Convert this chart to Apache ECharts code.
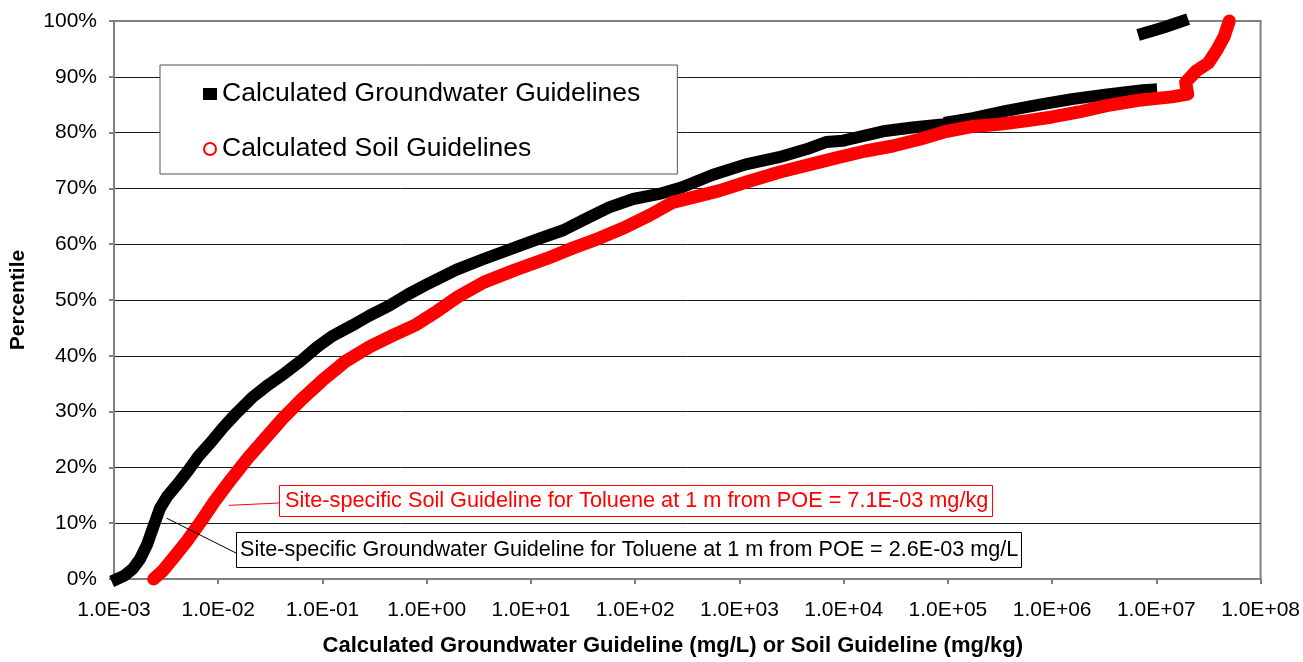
<!DOCTYPE html>
<html>
<head>
<meta charset="utf-8">
<script src="https://cdn.jsdelivr.net/npm/echarts@6/dist/echarts.min.js"></script>
<style>
  html, body { margin: 0; padding: 0; background: #ffffff; }
  #chart { width: 1303px; height: 662px; }
</style>
</head>
<body>
<div id="chart"></div>
<script>
// Cumulative distributions of calculated guidelines (percentile vs. guideline value).
// null entries mark breaks between runs of points.
const groundwaterGuideline = [
  1.07e-3, 1.26e-3, 1.51e-3, 1.78e-3, 2.09e-3, 2.40e-3, 2.75e-3, 3.24e-3, 4.07e-3, 5.13e-3,
  6.46e-3, 8.51e-3, 1.12e-2, 1.51e-2, 2.14e-2, 3.02e-2, 4.37e-2, 6.31e-2, 8.91e-2, 0.126,
  0.191, 0.282, 0.437, 0.661, 1.05, 1.91, 3.47, 6.76, 12.0, 20.4,
  33.9, 56.2, 95.5, 170, 282, 550, 1150, 2400, 4370, 6760,
  9120, null, 1.12e4, 2.51e4, 4.57e4, 8.32e4, null, 1.05e5, 1.74e5, 3.63e5,
  7.59e5, 1.55e6, 3.24e6, 7.41e6, 8.91e6, null, 7.59e6, 1.15e7, 1.78e7
];
const groundwaterPercentile = [
  0, 0.6, 1.8, 3.6, 6.3, 9.5, 12.6, 14.8, 17.0, 19.4,
  22.0, 24.5, 27.2, 29.8, 32.6, 34.8, 36.9, 39.2, 41.6, 43.6,
  45.4, 47.2, 49.0, 51.0, 53.0, 55.4, 57.3, 59.3, 61.0, 62.5,
  64.6, 66.6, 68.1, 69.0, 70.2, 72.4, 74.3, 75.6, 77.0, 78.3,
  78.5, null, 78.8, 80.3, 80.9, 81.4, null, 81.9, 82.6, 83.9,
  85.0, 86.0, 86.8, 87.6, 87.7, null, 97.8, 98.8, 100
];

const soilGuideline = [
  2.40e-3, 2.95e-3, 3.80e-3, 5.01e-3, 6.76e-3, 9.12e-3, 1.32e-2, 1.91e-2, 2.82e-2, 4.17e-2,
  6.31e-2, 0.100, 0.166, 0.282, 0.468, 0.794, 1.26, 2.00, 3.55, 7.08,
  14.1, 25.1, 45.7, 81.3, 138, 229, 417, 646, 1150, 2400,
  5010, 9120, 1.62e4, 2.95e4, 5.37e4, 9.55e4, 1.74e5, 3.09e5, 5.62e5, 1.00e6,
  1.82e6, 3.24e6, 6.76e6, 1.41e7, 2.00e7, 1.91e7, 2.40e7, 3.16e7, 3.80e7, 4.47e7,
  5.01e7
];
const soilPercentile = [
  0, 1.5, 4.0, 6.8, 10.2, 13.8, 17.8, 21.6, 25.2, 28.8,
  32.2, 35.6, 39.0, 41.6, 43.6, 45.6, 48.0, 50.6, 53.2, 55.4,
  57.4, 59.3, 61.1, 63.1, 65.2, 67.5, 68.7, 69.6, 71.1, 72.9,
  74.4, 75.6, 76.7, 77.6, 78.8, 80.2, 81.1, 81.5, 82.1, 82.8,
  83.7, 84.8, 85.8, 86.4, 86.9, 89.0, 91.0, 92.5, 94.8, 97.2,
  100
];

const xTickLabels = ['1.0E-03', '1.0E-02', '1.0E-01', '1.0E+00', '1.0E+01', '1.0E+02',
  '1.0E+03', '1.0E+04', '1.0E+05', '1.0E+06', '1.0E+07', '1.0E+08'];
const yTickLabels = ['0%', '10%', '20%', '30%', '40%', '50%', '60%', '70%', '80%', '90%', '100%'];

const seriesNames = ['Calculated Groundwater Guidelines', 'Calculated Soil Guidelines'];
const gwNote = 'Site-specific Groundwater Guideline for Toluene at 1 m from POE = 2.6E-03 mg/L';
const soilNote = 'Site-specific Soil Guideline for Toluene at 1 m from POE = 7.1E-03 mg/kg';

const FONT = '"Liberation Sans", Arial, Helvetica, sans-serif';

function toPairs(xs, ys) {
  return xs.map((x, i) => (x == null || ys[i] == null) ? ['-', '-'] : [x, ys[i]]);
}

const chart = echarts.init(document.getElementById('chart'), null, { renderer: 'canvas' });

chart.setOption({
  animation: false,
  backgroundColor: '#ffffff',
  grid: {
    left: 114, right: 41, top: 21, bottom: 79,
    show: true, borderColor: '#808080', borderWidth: 2, backgroundColor: 'transparent'
  },
  legend: {
    orient: 'vertical',
    left: 160, top: 65,
    padding: [15, 37, 11, 43],
    itemGap: 27,
    itemWidth: 14, itemHeight: 12,
    selectedMode: false,
    backgroundColor: '#ffffff',
    borderColor: '#555555', borderWidth: 1,
    textStyle: { fontFamily: FONT, fontSize: 26.5, color: '#000000', lineHeight: 28 },
    data: [
      { name: seriesNames[0], icon: 'rect', itemStyle: { color: '#000000', borderWidth: 0 } },
      { name: seriesNames[1], icon: 'circle',
        itemStyle: { color: 'rgba(255,255,255,0)', borderColor: '#ff0000', borderWidth: 2 } }
    ]
  },
  xAxis: {
    type: 'log', logBase: 10,
    min: 1e-3, max: 1e8, interval: 1,
    name: 'Calculated Groundwater Guideline (mg/L) or Soil Guideline (mg/kg)',
    nameLocation: 'middle', nameGap: 56,
    nameTextStyle: { fontFamily: FONT, fontSize: 22, fontWeight: 'bold', color: '#000', padding: [0, 29, 0, 0] },
    axisLine: { show: true, lineStyle: { color: '#808080', width: 2 } },
    axisTick: { show: true, inside: false, length: 5, lineStyle: { color: '#808080', width: 2 } },
    minorTick: { show: false },
    splitLine: { show: false },
    axisLabel: {
      margin: 21, fontFamily: FONT, fontSize: 21, color: '#000',
      formatter: v => xTickLabels[Math.round(Math.log10(v)) + 3]
    }
  },
  yAxis: {
    type: 'value', min: 0, max: 100, interval: 10,
    name: 'Percentile',
    nameLocation: 'middle', nameGap: 85,
    nameTextStyle: { fontFamily: FONT, fontSize: 21, fontWeight: 'bold', color: '#000' },
    axisLine: { show: true, lineStyle: { color: '#808080', width: 2 } },
    axisTick: { show: true, inside: false, length: 5, lineStyle: { color: '#808080', width: 2 } },
    splitLine: { show: true, showMinLine: false, showMaxLine: false, lineStyle: { color: '#1a1a1a', width: 1 } },
    axisLabel: {
      margin: 17, fontFamily: FONT, fontSize: 21, color: '#000',
      formatter: v => yTickLabels[Math.round(v / 10)]
    }
  },
  series: [
    {
      name: seriesNames[0], type: 'line',
      data: toPairs(groundwaterGuideline, groundwaterPercentile),
      showSymbol: false, symbol: 'rect', connectNulls: false, clip: false,
      itemStyle: { color: '#000000' },
      lineStyle: { color: '#000000', width: 12, cap: 'square', join: 'round' },
      z: 2
    },
    {
      name: seriesNames[1], type: 'line',
      data: toPairs(soilGuideline, soilPercentile),
      showSymbol: false, symbol: 'circle', connectNulls: false, clip: false,
      itemStyle: { color: '#ff0000' },
      lineStyle: { color: '#ff0000', width: 13, cap: 'round', join: 'round' },
      z: 3
    }
  ]
});

// Callout boxes with leader lines pointing onto each curve.
const gwAnchor = chart.convertToPixel({ gridIndex: 0 }, [3.2e-3, 10.9]);
const soilAnchor = chart.convertToPixel({ gridIndex: 0 }, [1.26e-2, 13.2]);

chart.setOption({
  graphic: [
    { type: 'line', z: 50, shape: { x1: 279, y1: 503, x2: soilAnchor[0], y2: soilAnchor[1] },
      style: { stroke: '#ff0000', lineWidth: 1 } },
    { type: 'rect', z: 50, shape: { x: 279.5, y: 485.5, width: 713, height: 31 },
      style: { fill: '#ffffff', stroke: '#ff0000', lineWidth: 1 } },
    { type: 'text', z: 51, x: 285, y: 501,
      style: { text: soilNote, font: '21.7px ' + FONT, fill: '#ff0000', textAlign: 'left', textVerticalAlign: 'middle' } },
    { type: 'line', z: 50, shape: { x1: 236, y1: 553, x2: gwAnchor[0], y2: gwAnchor[1] },
      style: { stroke: '#000000', lineWidth: 1 } },
    { type: 'rect', z: 50, shape: { x: 236.5, y: 532.5, width: 785, height: 35 },
      style: { fill: '#ffffff', stroke: '#000000', lineWidth: 1 } },
    { type: 'text', z: 51, x: 240, y: 550,
      style: { text: gwNote, font: '21.6px ' + FONT, fill: '#000000', textAlign: 'left', textVerticalAlign: 'middle' } }
  ]
});
</script>
</body>
</html>
